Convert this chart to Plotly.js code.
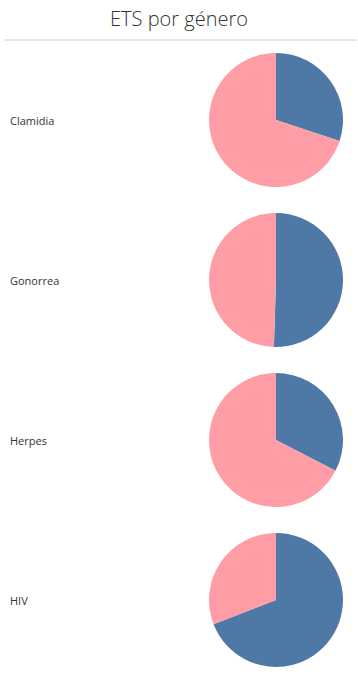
<!DOCTYPE html>
<html><head><meta charset="utf-8">
<script src="https://cdn.plot.ly/plotly-3.0.1.min.js"></script>
<style>html,body{margin:0;padding:0;background:#fff}#c{width:358px;height:683px}</style>
</head><body><div id="c"></div>
<script>
const enfermedades = ["Clamidia", "Gonorrea", "Herpes", "HIV"];
const generos = ["Masculino", "Femenino"];
const masculino = [30.1, 50.5, 32.6, 69.1];
const femenino = [69.9, 49.5, 67.4, 30.9];
const colores = ["#4e79a7", "#ff9da7"];

const W = 358, H = 683;
const cx = 276, r = 67;
const centros = [120, 280, 440, 600];

const traces = enfermedades.map((e, i) => ({
  type: "pie",
  name: e,
  labels: generos,
  values: [masculino[i], femenino[i]],
  sort: false,
  direction: "clockwise",
  rotation: 0,
  textinfo: "none",
  hoverinfo: "label+percent",
  marker: {colors: colores, line: {width: 0}},
  domain: {
    x: [(cx - r) / W, (cx + r) / W],
    y: [(H - centros[i] - r) / H, (H - centros[i] + r) / H]
  }
}));

const annotations = enfermedades.map((e, i) => ({
  text: e, xref: "paper", yref: "paper",
  x: 8 / W, y: (H - centros[i]) / H,
  xanchor: "left", yanchor: "middle", showarrow: false,
  font: {family: "Open Sans, sans-serif", size: 11, color: "#333333", weight: 500}
}));

const layout = {
  width: W, height: H,
  margin: {l: 0, r: 0, t: 0, b: 0},
  paper_bgcolor: "#ffffff",
  showlegend: false,
  title: {
    text: "ETS por género",
    x: 0.5, xanchor: "center",
    y: 1 - 19 / H, yanchor: "middle",
    font: {family: "Open Sans, sans-serif", size: 20, color: "#333333", weight: 300}
  },
  shapes: [{
    type: "line", xref: "paper", yref: "paper",
    x0: 4 / W, x1: 357 / W, y0: 1 - 40 / H, y1: 1 - 40 / H,
    line: {color: "#cccccc", width: 1}
  }],
  annotations: annotations
};

Plotly.newPlot("c", traces, layout, {displayModeBar: false, staticPlot: true});
</script></body></html>
